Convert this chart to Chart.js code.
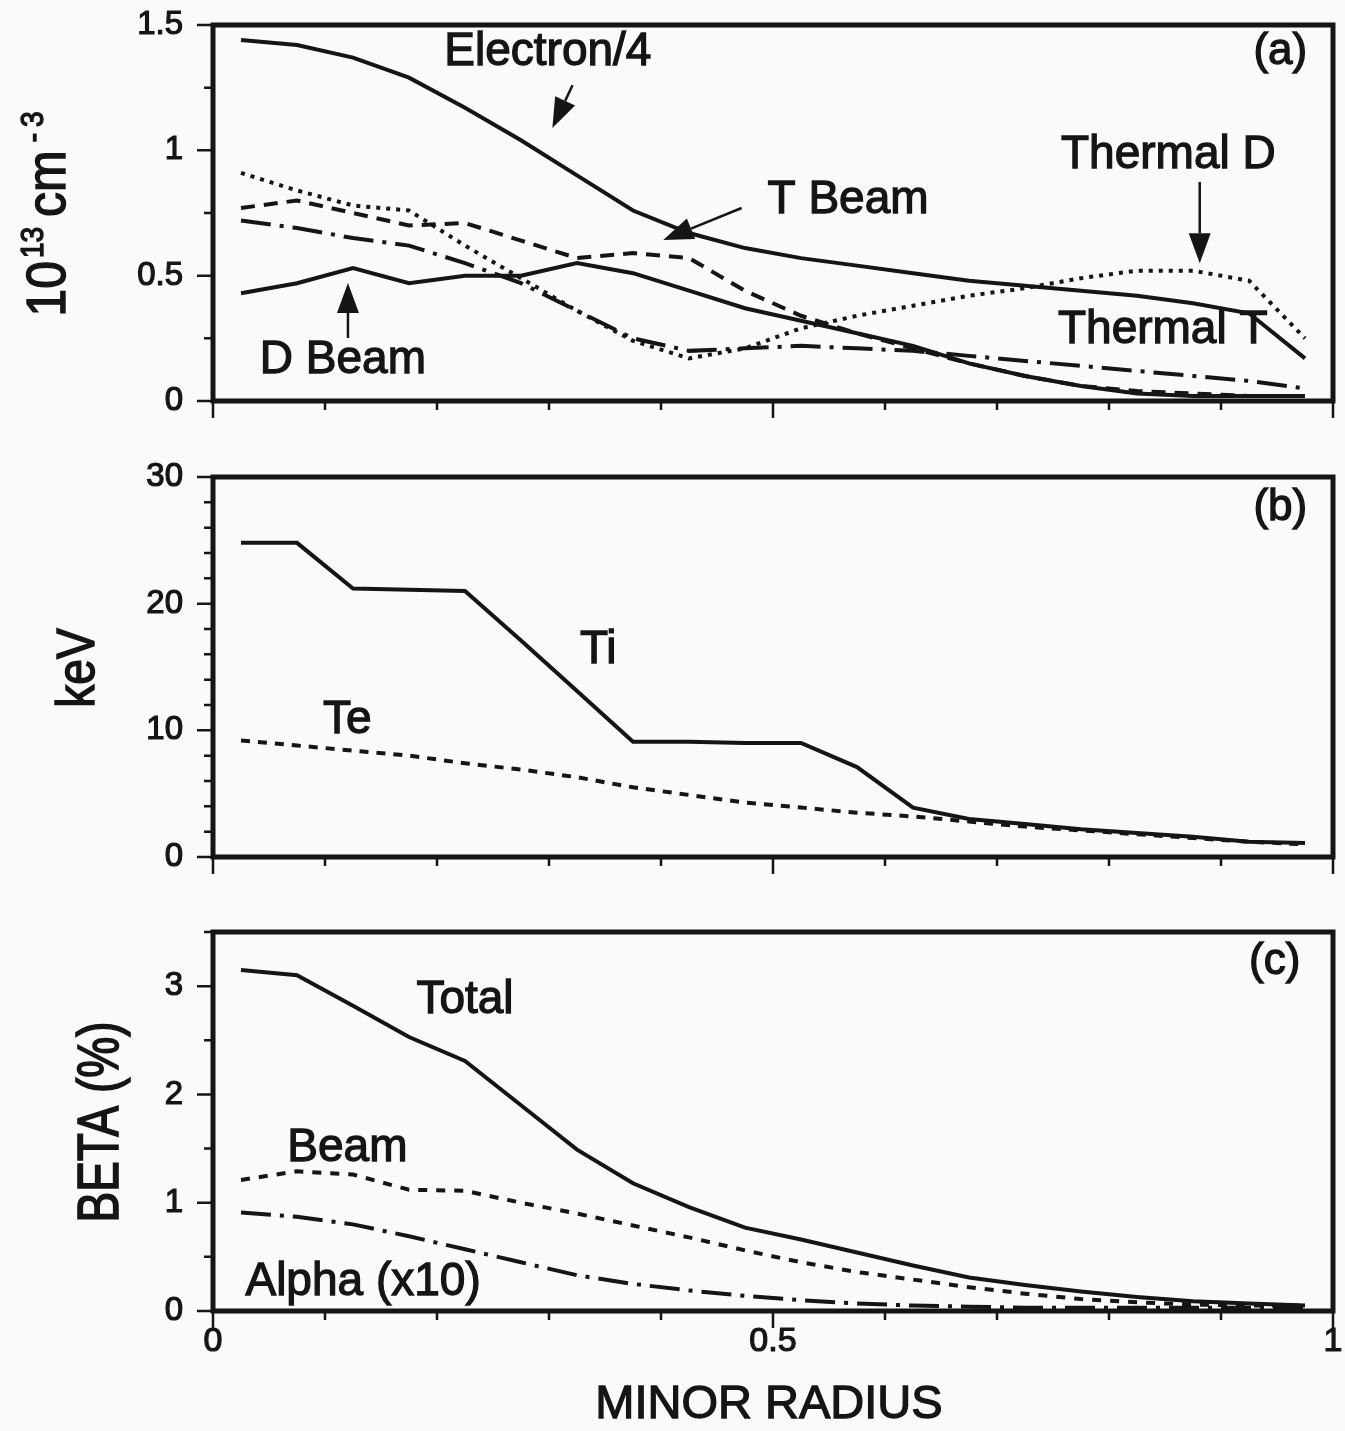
<!DOCTYPE html>
<html>
<head>
<meta charset="utf-8">
<script src="https://cdn.jsdelivr.net/npm/chart.js@4.4.1/dist/chart.umd.min.js"></script>
<style>
  html, body { margin: 0; padding: 0; background: #fafafa; }
  #wrap { position: relative; width: 1345px; height: 1431px; }
  canvas { position: absolute; left: 0; }
</style>
</head>
<body>
<div id="wrap">
  <canvas id="panelA" width="1345" height="445" style="top:0px"></canvas>
  <canvas id="panelB" width="1345" height="455" style="top:445px"></canvas>
  <canvas id="panelC" width="1345" height="531" style="top:900px"></canvas>
</div>
<script>
// minor radius grid shared by every profile
const radius = [0.025, 0.075, 0.125, 0.175, 0.225, 0.275, 0.325, 0.375, 0.425, 0.475,
                0.525, 0.575, 0.625, 0.675, 0.725, 0.775, 0.825, 0.875, 0.925, 0.975];

// (a) densities, 10^13 cm^-3
const electronQuarter = [1.44, 1.42, 1.37, 1.29, 1.17, 1.04, 0.90, 0.76, 0.67, 0.61,
                         0.57, 0.54, 0.51, 0.48, 0.46, 0.44, 0.42, 0.39, 0.35, 0.17];
const thermalD = [0.91, 0.84, 0.78, 0.76, 0.62, 0.49, 0.36, 0.24, 0.17, 0.21,
                  0.29, 0.34, 0.38, 0.42, 0.45, 0.49, 0.52, 0.52, 0.48, 0.25];
const tBeam = [0.77, 0.80, 0.75, 0.70, 0.71, 0.64, 0.57, 0.59, 0.57, 0.44,
               0.34, 0.27, 0.21, 0.15, 0.10, 0.06, 0.04, 0.03, 0.02, 0.02];
const dBeam = [0.43, 0.47, 0.53, 0.47, 0.50, 0.50, 0.55, 0.51, 0.44, 0.37,
               0.32, 0.27, 0.22, 0.15, 0.10, 0.06, 0.03, 0.02, 0.02, 0.02];
const thermalT = [0.72, 0.69, 0.65, 0.62, 0.55, 0.47, 0.36, 0.25, 0.20, 0.21,
                  0.22, 0.21, 0.20, 0.18, 0.16, 0.14, 0.12, 0.10, 0.08, 0.05];

// (b) temperatures, keV
const ti = [24.8, 24.8, 21.2, 21.1, 21.0, 17.1, 13.1, 9.1, 9.1, 9.0,
            9.0, 7.1, 3.9, 3.0, 2.6, 2.2, 1.9, 1.6, 1.2, 1.1];
const te = [9.2, 8.8, 8.4, 8.0, 7.4, 6.9, 6.3, 5.5, 4.9, 4.3,
            3.9, 3.5, 3.2, 2.8, 2.4, 2.1, 1.8, 1.5, 1.2, 1.0];

// (c) beta, %
const betaTotal = [3.15, 3.10, 2.82, 2.53, 2.31, 1.90, 1.49, 1.18, 0.96, 0.77,
                   0.66, 0.54, 0.42, 0.31, 0.24, 0.18, 0.13, 0.09, 0.07, 0.05];
const betaBeam = [1.21, 1.29, 1.26, 1.12, 1.11, 1.00, 0.90, 0.79, 0.68, 0.56,
                  0.45, 0.36, 0.29, 0.22, 0.16, 0.11, 0.08, 0.06, 0.05, 0.05];
const betaAlpha = [0.91, 0.87, 0.80, 0.69, 0.57, 0.45, 0.33, 0.25, 0.19, 0.14,
                   0.10, 0.07, 0.05, 0.04, 0.03, 0.03, 0.03, 0.03, 0.03, 0.03];

const INK = '#151515';
const FONT = "'Liberation Sans', Arial, Helvetica, sans-serif";
const SOLID = [], DOTTED = [4, 6], DASHDOT = [30, 9, 4, 9];

function isMult(v, step) {
  return Math.abs(v / step - Math.round(v / step)) < 1e-6;
}

function series(label, vals, dash) {
  return {
    label: label,
    data: radius.map((r, i) => ({ x: r, y: vals[i] })),
    borderColor: INK,
    borderWidth: 4,
    borderDash: dash,
    borderCapStyle: 'butt',
    pointRadius: 0,
    tension: 0,
    fill: false,
  };
}

// box round the plot area plus the outward tick marks
const frame = {
  id: 'frame',
  afterDraw(chart, args, opts) {
    const { ctx, chartArea: a, scales: { x, y } } = chart;
    ctx.save();
    ctx.strokeStyle = INK;
    ctx.lineWidth = 2.5;
    ctx.beginPath();
    x.ticks.forEach(t => {
      const px = x.getPixelForValue(t.value);
      const len = isMult(t.value, 0.5) ? 17 : 9;
      ctx.moveTo(px, a.bottom);
      ctx.lineTo(px, a.bottom + len);
    });
    y.ticks.forEach(t => {
      const py = y.getPixelForValue(t.value);
      const len = isMult(t.value, opts.yMajor) ? 16 : 9;
      ctx.moveTo(a.left, py);
      ctx.lineTo(a.left - len, py);
    });
    ctx.stroke();
    ctx.lineWidth = 5;
    ctx.strokeRect(a.left, a.top, a.right - a.left, a.bottom - a.top);
    ctx.restore();
  }
};

// labels, arrows and the axis titles
const notes = {
  id: 'notes',
  afterDatasetsDraw(chart, args, opts) {
    const { ctx, chartArea: area, scales: { x, y } } = chart;
    ctx.save();
    ctx.fillStyle = INK;
    ctx.strokeStyle = INK;
    (opts.arrows || []).forEach(ar => {
      const x0 = x.getPixelForValue(ar.from[0]), y0 = y.getPixelForValue(ar.from[1]);
      const x1 = x.getPixelForValue(ar.to[0]), y1 = y.getPixelForValue(ar.to[1]);
      const ang = Math.atan2(y1 - y0, x1 - x0);
      const head = 30, half = 11;
      const bx = x1 - head * Math.cos(ang), by = y1 - head * Math.sin(ang);
      ctx.lineWidth = 2.5;
      ctx.beginPath();
      ctx.moveTo(x0, y0);
      ctx.lineTo(bx, by);
      ctx.stroke();
      ctx.beginPath();
      ctx.moveTo(x1, y1);
      ctx.lineTo(bx - half * Math.sin(ang), by + half * Math.cos(ang));
      ctx.lineTo(bx + half * Math.sin(ang), by - half * Math.cos(ang));
      ctx.closePath();
      ctx.fill();
    });
    ctx.textAlign = 'center';
    ctx.textBaseline = 'middle';
    ctx.lineWidth = 1.3;
    (opts.labels || []).forEach(l => {
      ctx.font = (l.size || 46) + 'px ' + FONT;
      const px = x.getPixelForValue(l.x), py = y.getPixelForValue(l.y);
      ctx.fillText(l.text, px, py);
      ctx.strokeText(l.text, px, py);
    });

    if (opts.xTitle) {
      ctx.font = '47px ' + FONT;
      const cx = (area.left + area.right) / 2 - 4;
      ctx.fillText(opts.xTitle, cx, opts.xTitleY);
      ctx.strokeText(opts.xTitle, cx, opts.xTitleY);
    }

    const yt = opts.yTitle;
    if (yt) {
      ctx.textAlign = 'left';
      ctx.textBaseline = 'alphabetic';
      let total = 0;
      yt.parts.forEach(p => {
        ctx.font = p.size + 'px ' + FONT;
        p.w = ctx.measureText(p.t).width;
        total += p.w + (p.gap || 0);
      });
      ctx.translate(yt.x, yt.y);
      ctx.rotate(-Math.PI / 2);
      ctx.scale(1, yt.stretch || 1);
      let pos = -total / 2;
      yt.parts.forEach(p => {
        pos += p.gap || 0;
        ctx.font = p.size + 'px ' + FONT;
        const rise = -(p.rise || 0) / (yt.stretch || 1);
        ctx.fillText(p.t, pos, rise);
        ctx.strokeText(p.t, pos, rise);
        pos += p.w;
      });
    }
    ctx.restore();
  }
};

function panel(id, cfg) {
  return new Chart(document.getElementById(id), {
    type: 'line',
    plugins: [frame, notes],
    data: { datasets: cfg.datasets },
    options: {
      responsive: false,
      animation: false,
      devicePixelRatio: 1,
      layout: { padding: { top: cfg.top, right: 12, left: 0, bottom: 0 } },
      plugins: {
        legend: { display: false },
        tooltip: { enabled: false },
        frame: { yMajor: cfg.yMajor },
        notes: {
          labels: cfg.labels,
          arrows: cfg.arrows,
          yTitle: cfg.yTitle,
          xTitle: cfg.xTitle,
          xTitleY: cfg.xTitleY,
        },
      },
      scales: {
        x: {
          type: 'linear',
          min: 0,
          max: 1,
          grid: { display: false, drawTicks: false },
          border: { display: false },
          ticks: {
            stepSize: 0.1,
            display: !!cfg.xTitle,
            autoSkip: false,
            maxRotation: 0,
            padding: 10,
            color: INK,
            textStrokeColor: INK,
            textStrokeWidth: 1.2,
            font: { family: FONT, size: 34 },
            callback: v => isMult(v, 0.5) ? String(v) : '',
          },
          afterFit: s => {
            s.height = cfg.xHeight;
            s.paddingLeft = 0;
            s.paddingRight = 0;
          },
        },
        y: {
          min: 0,
          max: cfg.yMax,
          grid: { display: false, drawTicks: false },
          border: { display: false },
          ticks: {
            stepSize: cfg.yStep,
            autoSkip: false,
            padding: 30,
            color: INK,
            textStrokeColor: INK,
            textStrokeWidth: 1.2,
            font: { family: FONT, size: 33 },
            callback: v => isMult(v, cfg.yMajor) ? String(v) : '',
          },
          afterFit: s => {
            s.width = 213;
            s.paddingTop = 0;
            s.paddingBottom = 0;
          },
        },
      },
    },
  });
}

panel('panelA', {
  top: 25, xHeight: 44, yMax: 1.5, yStep: 0.25, yMajor: 0.5,
  datasets: [
    series('Electron/4', electronQuarter, SOLID),
    series('Thermal D', thermalD, DOTTED),
    series('T Beam', tBeam, [14, 9]),
    series('D Beam', dBeam, SOLID),
    series('Thermal T', thermalT, DASHDOT),
  ],
  labels: [
    { text: 'Electron/4', x: 0.299, y: 1.392 },
    { text: 'T Beam', x: 0.567, y: 0.802 },
    { text: 'Thermal D', x: 0.853, y: 0.981 },
    { text: 'Thermal T', x: 0.848, y: 0.283 },
    { text: 'D Beam', x: 0.116, y: 0.164 },
    { text: '(a)', x: 0.953, y: 1.392, size: 44 },
  ],
  arrows: [
    { from: [0.321, 1.26], to: [0.303, 1.089] },
    { from: [0.472, 0.770], to: [0.402, 0.642] },
    { from: [0.881, 0.874], to: [0.881, 0.550] },
    { from: [0.1205, 0.251], to: [0.1205, 0.471] },
  ],
  yTitle: {
    x: 65, y: 214, stretch: 1.1,
    parts: [
      { t: '10', size: 50 },
      { t: '13', size: 28, rise: 22, gap: 3 },
      { t: 'cm', size: 50, gap: 10 },
      { t: '-', size: 28, rise: 22, gap: 8 },
      { t: '3', size: 28, rise: 22, gap: 6 },
    ],
  },
});

panel('panelB', {
  top: 32, xHeight: 43, yMax: 30, yStep: 2, yMajor: 10,
  datasets: [
    series('Ti', ti, SOLID),
    series('Te', te, [9, 8]),
  ],
  labels: [
    { text: 'Ti', x: 0.344, y: 16.3 },
    { text: 'Te', x: 0.12, y: 10.8 },
    { text: '(b)', x: 0.953, y: 27.6, size: 44 },
  ],
  yTitle: { x: 94, y: 223, stretch: 1.15, parts: [{ t: 'keV', size: 46 }] },
});

panel('panelC', {
  top: 32, xHeight: 120, yMax: 3.5, yStep: 0.5, yMajor: 1,
  xTitle: 'MINOR RADIUS', xTitleY: 505,
  datasets: [
    series('Total', betaTotal, SOLID),
    series('Beam', betaBeam, [9, 9]),
    series('Alpha (x10)', betaAlpha, DASHDOT),
  ],
  labels: [
    { text: 'Total', x: 0.225, y: 2.87 },
    { text: 'Beam', x: 0.12, y: 1.505 },
    { text: 'Alpha (x10)', x: 0.134, y: 0.268 },
    { text: '(c)', x: 0.948, y: 3.22, size: 44 },
  ],
  yTitle: { x: 118, y: 222, stretch: 1.25, parts: [{ t: 'BETA (%)', size: 46 }] },
});
</script>
</body>
</html>
